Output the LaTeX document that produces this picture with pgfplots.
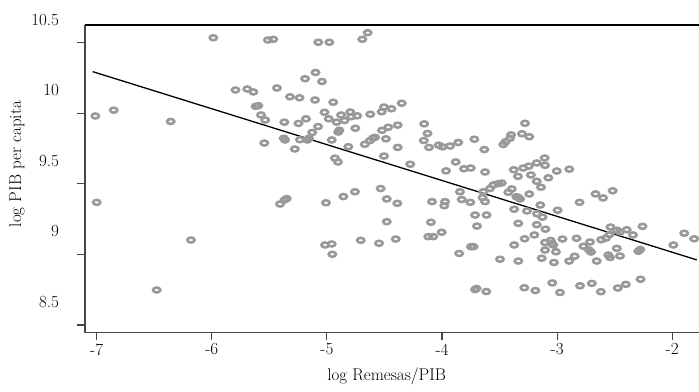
\documentclass[border=0pt]{standalone}
\usepackage{pgfplots}
\pgfplotsset{compat=1.18}
\pgfplotstableread{
x y
-5.987 10.535
-5.512 10.519
-5.466 10.524
-5.075 10.503
-4.979 10.503
-4.692 10.524
-4.646 10.571
-5.099 10.289
-5.190 10.245
-5.043 10.225
-5.794 10.165
-5.692 10.172
-5.639 10.151
-5.434 10.179
-5.321 10.117
-5.238 10.110
-5.103 10.094
-4.945 10.078
-7.012 9.981
-6.852 10.022
-6.357 9.942
-5.619 10.049
-5.596 10.054
-5.573 9.988
-5.536 9.952
-5.370 9.937
-5.247 9.928
-5.182 9.961
-5.021 10.007
-4.984 9.961
-4.877 9.988
-4.915 9.937
-4.847 9.949
-4.797 10.009
-4.789 9.976
-4.737 9.982
-4.623 9.993
-4.524 10.011
-4.504 10.044
-4.439 10.032
-4.350 10.071
-5.077 9.906
-5.128 9.864
-5.156 9.823
-5.234 9.813
-5.170 9.811
-5.375 9.823
-5.364 9.811
-5.544 9.789
-5.279 9.747
-4.958 9.811
-4.901 9.867
-4.892 9.880
-4.753 9.894
-4.814 9.763
-4.930 9.682
-4.904 9.655
-4.671 9.780
-4.628 9.806
-4.601 9.823
-4.582 9.830
-4.521 9.879
-4.467 9.901
-4.385 9.916
-4.487 9.819
-4.385 9.758
-4.504 9.697
-4.276 9.639
-4.155 9.925
-4.126 9.857
-4.158 9.807
-4.113 9.758
-4.029 9.774
-3.996 9.762
-3.930 9.768
-3.859 9.793
-3.719 9.816
-3.632 9.743
-3.881 9.655
-3.809 9.607
-3.750 9.612
-3.965 9.592
-3.626 9.584
-3.279 9.929
-3.400 9.847
-3.409 9.823
-3.447 9.799
-3.467 9.779
-3.305 9.855
-3.242 9.834
-3.377 9.600
-3.294 9.612
-3.246 9.625
-3.177 9.648
-3.108 9.683
-3.105 9.631
-3.003 9.591
-2.894 9.604
-3.340 9.553
-3.228 9.563
-3.076 9.543
-3.177 9.518
-3.844 9.444
-3.554 9.492
-3.511 9.502
-3.481 9.506
-3.583 9.467
-3.641 9.444
-3.394 9.464
-3.424 9.440
-3.337 9.403
-3.354 9.409
-3.322 9.393
-3.242 9.428
-3.140 9.476
-2.666 9.429
-2.601 9.400
-2.517 9.451
-2.805 9.369
-3.829 9.389
-3.754 9.369
-3.648 9.403
-3.626 9.374
-3.713 9.279
-3.613 9.279
-3.696 9.201
-4.096 9.228
-4.087 9.374
-3.974 9.374
-3.980 9.345
-4.003 9.157
-4.119 9.126
-4.076 9.126
-3.748 9.055
-3.726 9.055
-3.851 9.007
-3.713 8.751
-3.700 8.759
-3.615 8.737
-3.373 9.320
-3.262 9.308
-3.175 9.288
-3.127 9.264
-2.996 9.313
-3.337 9.220
-3.177 9.211
-3.101 9.179
-3.146 9.350
-3.373 9.067
-3.282 9.111
-3.198 9.138
-3.105 9.084
-3.056 9.099
-3.047 9.077
-3.033 9.067
-2.953 9.109
-2.831 9.114
-3.105 9.031
-3.010 9.019
-3.134 8.973
-3.027 8.943
-3.496 8.966
-3.337 8.953
-2.895 8.953
-2.847 8.987
-2.772 9.058
-2.714 9.088
-2.723 9.031
-2.705 9.017
-2.656 8.953
-2.618 9.104
-2.575 9.116
-2.545 9.141
-2.536 9.194
-2.480 9.171
-2.454 9.159
-2.395 9.175
-2.341 9.138
-2.258 9.199
-2.482 9.043
-2.555 8.996
-2.540 8.978
-2.454 8.989
-2.294 9.022
-2.277 9.035
-1.990 9.067
-1.895 9.150
-1.809 9.111
-3.042 8.798
-2.975 8.730
-2.801 8.778
-2.698 8.795
-2.620 8.736
-2.473 8.762
-2.403 8.788
-2.275 8.824
-3.285 8.764
-3.189 8.744
-7.000 9.369
-6.181 9.102
-6.479 8.748
-5.407 9.357
-5.368 9.386
-5.349 9.396
-5.008 9.366
-4.857 9.410
-4.756 9.444
-4.533 9.467
-4.480 9.393
-4.388 9.362
-4.480 9.232
-5.016 9.067
-4.958 9.074
-4.953 9.001
-4.706 9.100
-4.547 9.079
-4.402 9.109
}\scatterdata
\definecolor{ring}{RGB}{153,153,153}
\definecolor{axc}{RGB}{70,70,70}
\begin{document}
\begin{tikzpicture}[font=\fontsize{17bp}{20bp}\selectfont]
\begin{axis}[
  font=\fontsize{17bp}{20bp}\selectfont,
  x=115.1bp, y=141.15bp,
  xmin=-7.1017, xmax=-1.7671, ymin=8.4454, ymax=10.6254,
  axis lines*=left,
  axis line style={axc, line width=1.1bp},
  tick style={axc, line width=1.1bp},
  tick align=outside, major tick length=7.5bp,
  tick label style={font=\fontsize{17bp}{20bp}\selectfont},
  label style={font=\fontsize{17bp}{20bp}\selectfont},
  xtick={-7,-6,-5,-4,-3,-2}, xticklabels={-7,-6,-5,-4,-3,-2},
  ytick={8.5,9,9.5,10,10.5}, yticklabels={8.5,9,9.5,10,10.5},
  yticklabel style={anchor=east, yshift=23bp, xshift=-15bp},
  xlabel={log Remesas/PIB}, ylabel={log PIB per capita},
  xlabel style={at={(axis description cs:0.4914,0)}, anchor=north, inner sep=0pt, yshift=-35.3bp},
  ylabel style={at={(axis description cs:0,0.548)}, anchor=center, yshift=68bp},
  clip=false,
]
\addplot[only marks, mark=o, mark size=2.5bp, mark options={draw=ring, line width=2.6bp, xscale=1.45}] table[x=x,y=y] {\scatterdata};
\addplot[black, line width=1.3bp] coordinates {(-7.035,10.295) (-1.787,8.9615)};
\draw[black, line width=1.1bp] (rel axis cs:0,1) -- (rel axis cs:1,1);
\end{axis}
\pgfresetboundingbox
\path[use as bounding box] ([xshift=-85bp,yshift=-58.3bp]current axis.south west) rectangle ([yshift=25bp]current axis.north east);
\end{tikzpicture}
\end{document}
